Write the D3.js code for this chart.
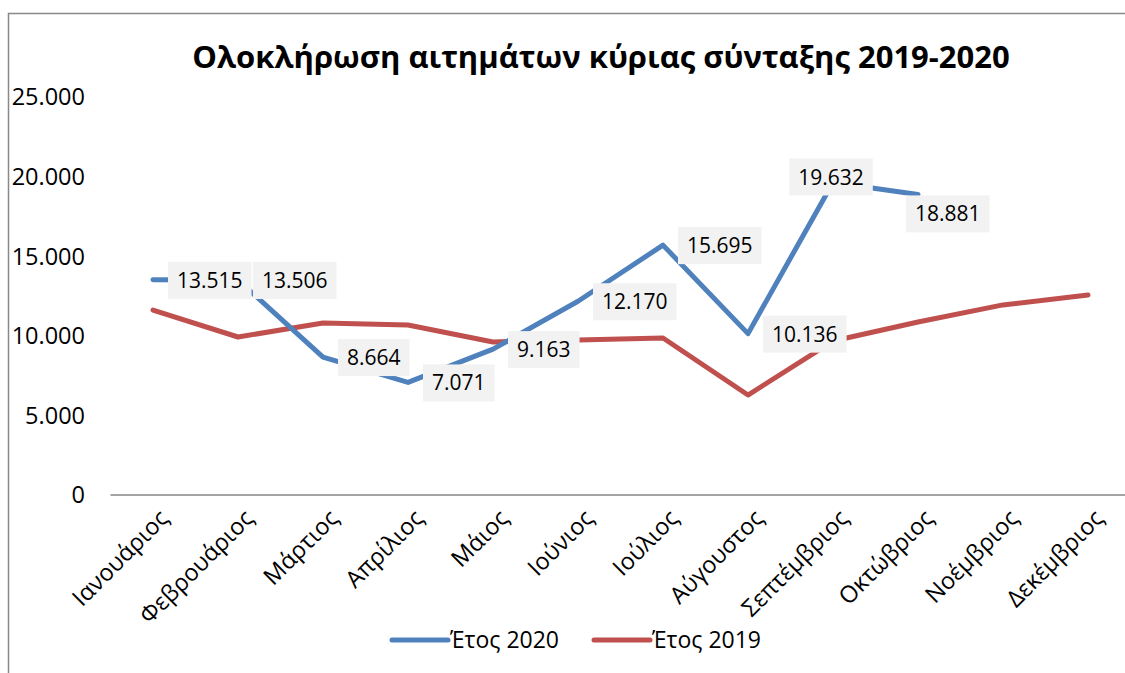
<!DOCTYPE html>
<html>
<head>
<meta charset="utf-8">
<script src="https://cdn.jsdelivr.net/npm/d3@7"></script>
<style>
  body { margin: 0; background: #fff; }
  text { font-family: "Open Sans", "Noto Sans", sans-serif; fill: #000; }
</style>
</head>
<body>
<div id="chart"></div>
<script>

// data
let months = ["Ιανουάριος", "Φεβρουάριος", "Μάρτιος", "Απρίλιος", "Μάιος", "Ιούνιος",
  "Ιούλιος", "Αύγουστος", "Σεπτέμβριος", "Οκτώβριος", "Νοέμβριος", "Δεκέμβριος"]
let values2020 = [13515, 13506, 8664, 7071, 9163, 12170, 15695, 10136, 19632, 18881]
let values2019 = [11620, 9925, 10800, 10680, 9610, 9740, 9860, 6280, 9670, 10870, 11940, 12560]
let yTicks = [0, 5000, 10000, 15000, 20000, 25000]
let seriesNames = ["Έτος 2020", "Έτος 2019"]
let seriesColors = ["#4F81BD", "#C0504D"]

let width = 1125;
let height = 673;

// greek number format: 13.515
let fmt = d3.formatLocale({decimal: ",", thousands: ".", grouping: [3], currency: ["", "€"]}).format(",d")

let x = d3.scaleBand()
  .domain(months)
  .range([110.5, 1130.5])

let y = d3.scaleLinear()
  .domain([0, 25000])
  .range([495, 97])

let cx = function(m) { return x(m) + x.bandwidth() / 2 }

var svg = d3.select("#chart").append("svg")
  .attr("width", width)
  .attr("height", height);

// chart frame (only left and top edges are inside the picture)
svg.append("path")
  .attr("d", "M8.5," + height + "V13.5H" + width)
  .style("fill", "none")
  .style("stroke", "#898989")
  .style("stroke-width", 1.5)

// title
svg.append("text")
  .attr("x", 601)
  .attr("y", 68)
  .attr("text-anchor", "middle")
  .style("font-size", "31px")
  .style("font-weight", "bold")
  .text("Ολοκλήρωση αιτημάτων κύριας σύνταξης 2019-2020")

// y axis labels, no gridlines
svg.selectAll(".ylab")
  .data(yTicks)
  .join("text")
  .attr("class", "ylab")
  .attr("x", 85)
  .attr("y", function(d) { return y(d) })
  .attr("dy", "0.36em")
  .attr("text-anchor", "end")
  .style("font-size", "23.5px")
  .text(function(d) { return fmt(d) })

// x axis line
svg.append("line")
  .attr("x1", 110.5)
  .attr("x2", width)
  .attr("y1", y(0))
  .attr("y2", y(0))
  .style("stroke", "#868686")
  .style("stroke-width", 1.5)

// rotated month labels
svg.selectAll(".xlab")
  .data(months)
  .join("text")
  .attr("class", "xlab")
  .attr("text-anchor", "end")
  .attr("transform", function(d) { return "translate(" + (cx(d) + 11) + ",514) rotate(-45)" })
  .attr("dy", "0.35em")
  .style("font-size", "23.5px")
  .text(function(d) { return d })

let line = d3.line()
  .x(function(d, i) { return cx(months[i]) })
  .y(function(d) { return y(d) })

let allSeries = [values2020, values2019]

// 2019 drawn first, 2020 on top
svg.selectAll(".series")
  .data([1, 0])
  .join("path")
  .attr("class", "series")
  .attr("d", function(k) { return line(allSeries[k]) })
  .style("fill", "none")
  .style("stroke", function(k) { return seriesColors[k] })
  .style("stroke-width", 5)
  .style("stroke-linejoin", "round")
  .style("stroke-linecap", "round")

// data labels for 2020: mostly right of the point,
// september sits centred on it, october hangs below-right
function labelOffset(i, w) {
  if (i == 8) return [-w / 2 - 2, -24]
  if (i == 9) return [-12, 1]
  return [15, -18]
}

let labels = svg.selectAll(".dlab")
  .data(values2020)
  .join("g")
  .attr("class", "dlab")

labels.append("rect")
  .attr("height", 37)
  .style("fill", "#F2F2F2")

labels.append("text")
  .attr("x", 9)
  .attr("y", 18.5)
  .attr("dy", "0.36em")
  .style("font-size", "21px")
  .text(function(d) { return fmt(d) })

labels.each(function(d, i) {
  let g = d3.select(this)
  let w = g.select("text").node().getComputedTextLength() + 18
  g.select("rect").attr("width", w)
  let off = labelOffset(i, w)
  g.attr("transform", "translate(" + (cx(months[i]) + off[0]) + "," + (y(d) + off[1]) + ")")
})

// legend
let legendX = [392, 594]
let legend = svg.selectAll(".leg")
  .data(seriesNames)
  .join("g")
  .attr("class", "leg")
  .attr("transform", function(d, i) { return "translate(" + legendX[i] + ",640)" })

legend.append("line")
  .attr("x1", 0)
  .attr("x2", 56)
  .style("stroke", function(d, i) { return seriesColors[i] })
  .style("stroke-width", 5)
  .style("stroke-linecap", "round")

legend.append("text")
  .attr("x", 58)
  .attr("dy", "0.36em")
  .style("font-size", "23px")
  .text(function(d) { return d })

</script>
</body>
</html>
